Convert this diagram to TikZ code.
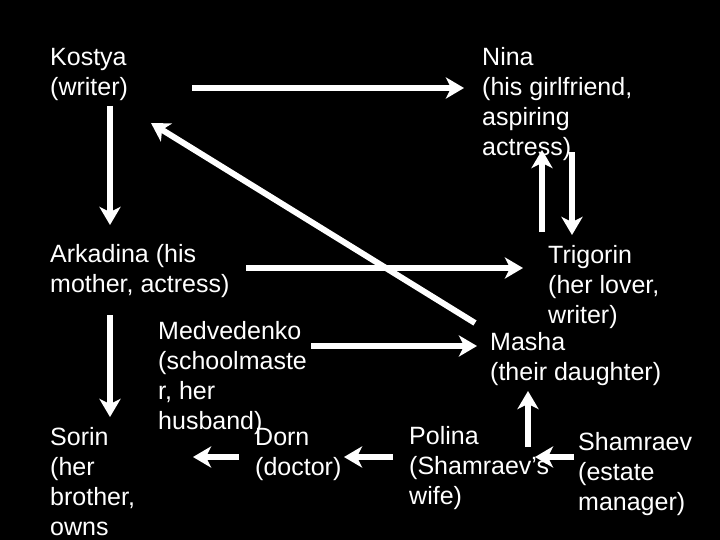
\documentclass[tikz,border=0pt]{standalone}
\usepackage{fontspec}
\setmainfont{Liberation Sans}
\usetikzlibrary{arrows.meta}
\tikzset{
  who/.style={text=white, align=left, anchor=base west, inner sep=0pt, font=\fontsize{25}{30}\selectfont},
  line/.style={-{Stealth[length=18pt, width=21pt, inset=5pt]}, white, line width=6pt}
}

\begin{document}
\begin{tikzpicture}[x=1pt, y=-1pt]
    \fill[black] (0,0) rectangle (720,540);
    \useasboundingbox (0,0) rectangle (720,540);

    % nodes sit on the baseline of their last line
    \node[who] (kostya) at (50,96) {Kostya\\(writer)};
    \node[who] (nina) at (482,156) {Nina\\(his girlfriend,\\aspiring\\actress)};

    \node[who] (arkadina) at (50,292) {Arkadina (his\\mother, actress)};
    \node[who] (trigorin) at (548,323) {Trigorin\\(her lover,\\writer)};
    \node[who] (medvedenko) at (158,429) {Medvedenko\\(schoolmaste\\r, her\\husband)};
    \node[who] (masha) at (490,380) {Masha\\(their daughter)};

    \node[who] (sorin) at (50,535) {Sorin\\(her\\brother,\\owns};
    \node[who] (dorn) at (255,475) {Dorn\\(doctor)};
    \node[who] (polina) at (409,504) {Polina\\(Shamraev’s\\wife)};
    \node[who] (shamraev) at (578,510) {Shamraev\\(estate\\manager)};

    \draw[line] ([shift={(142,-8)}]kostya.base west) -- ([shift={(-18,-68)}]nina.base west);
    \draw[line] ([shift={(60,10)}]kostya.base west) -- ([shift={(60,-67)}]arkadina.base west);
    \draw[line] ([shift={(-15,-57)}]masha.base west) -- ([shift={(101,27)}]kostya.base west);

    \draw[line] ([shift={(90,-4)}]nina.base west) -- ([shift={(24,-88)}]trigorin.base west);
    \draw[line] ([shift={(-6,-91)}]trigorin.base west) -- ([shift={(60,-6)}]nina.base west);

    \draw[line] ([shift={(196,-24)}]arkadina.base west) -- ([shift={(-25,-55)}]trigorin.base west);
    \draw[line] ([shift={(60,23)}]arkadina.base west) -- ([shift={(60,-118)}]sorin.base west);
    \draw[line] ([shift={(153,-83)}]medvedenko.base west) -- ([shift={(-13,-34)}]masha.base west);

    \draw[line] ([shift={(-16,-18)}]dorn.base west) -- ([shift={(143,-78)}]sorin.base west);
    \draw[line] ([shift={(-16,-47)}]polina.base west) -- ([shift={(89,-18)}]dorn.base west);
    \draw[line] ([shift={(-4,-53)}]shamraev.base west) -- ([shift={(126,-47)}]polina.base west);
    \draw[line] ([shift={(119,-57)}]polina.base west) -- ([shift={(38,11)}]masha.base west);

\end{tikzpicture}
\end{document}
